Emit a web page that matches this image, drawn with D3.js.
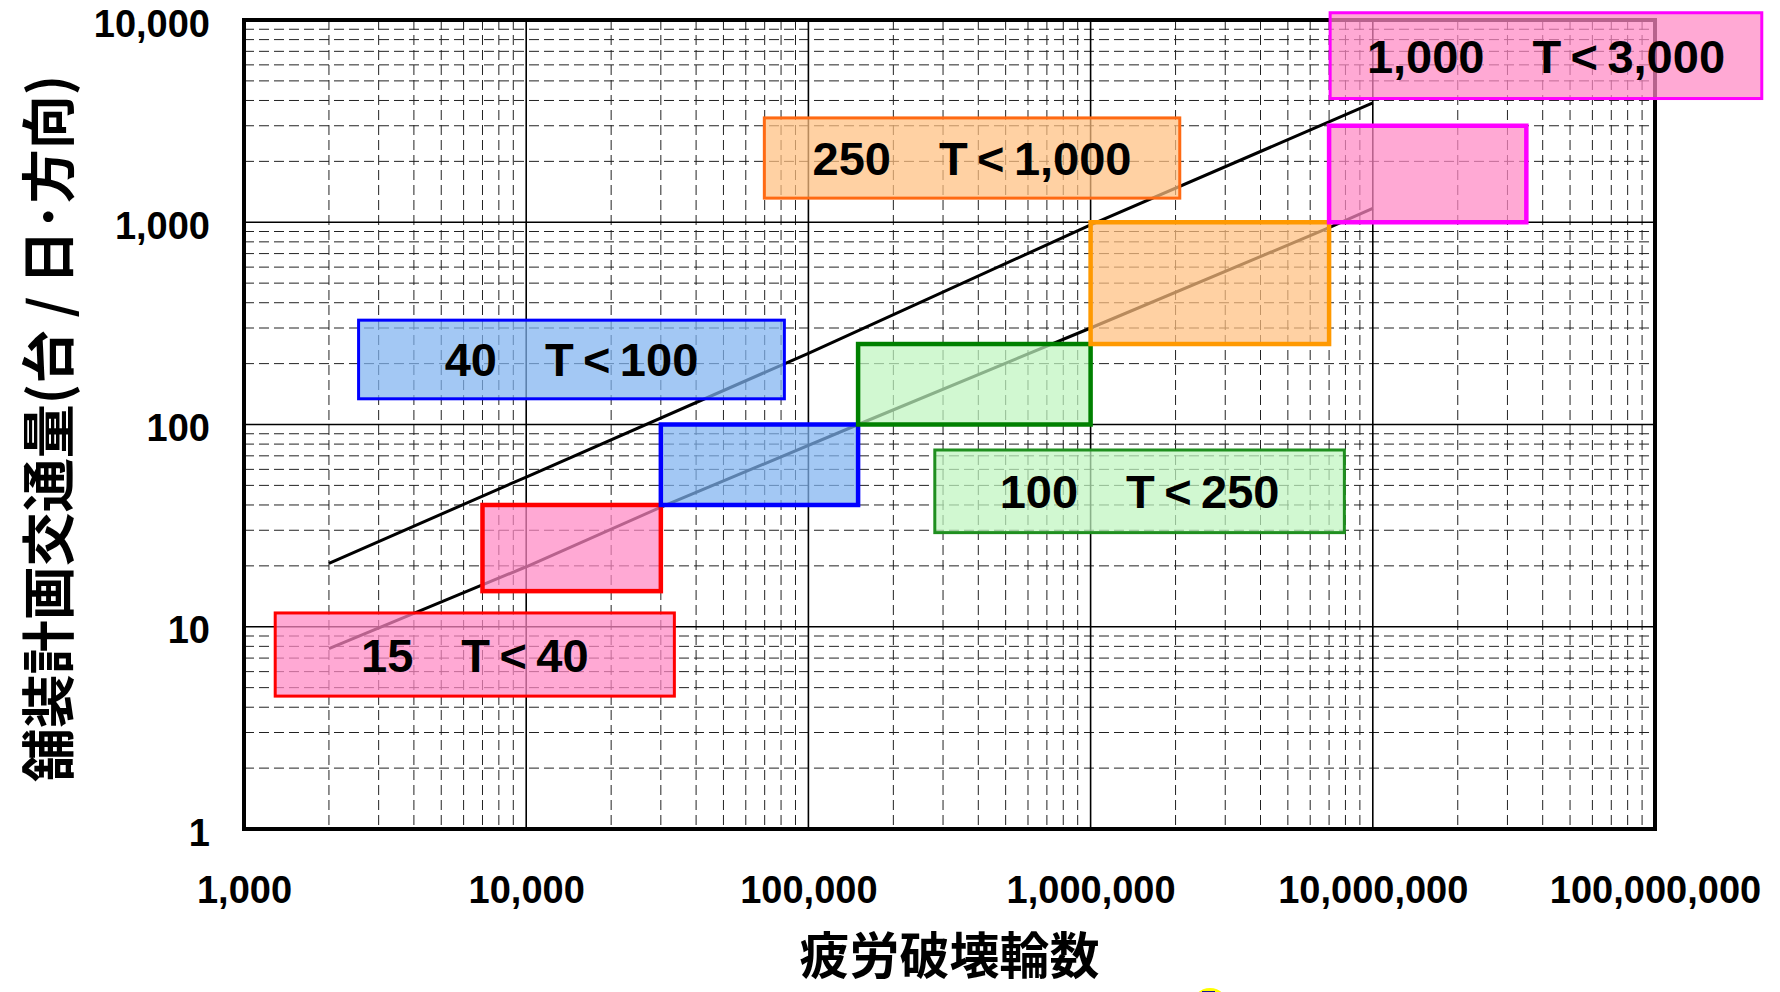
<!DOCTYPE html>
<html>
<head>
<meta charset="utf-8">
<script src="https://cdn.jsdelivr.net/npm/d3@7"></script>
<style>
  html, body { margin: 0; padding: 0; background: #fff; }
  svg { display: block; }
</style>
</head>
<body>
<svg id="chart" width="1780" height="992"></svg>
<script>
// Axis ticks
const xTickValues = [1e3, 1e4, 1e5, 1e6, 1e7, 1e8];
const yTickValues = [1, 10, 100, 1000, 10000];

// Traffic classes: design traffic T (vehicles/day/direction) and fatigue wheel-load range N
const classLower = [15, 40, 100, 250, 1000];
const classUpper = [40, 100, 250, 1000, 3000];
const wheelLow   = [7000, 30000, 150000, 1000000, 7000000];
const wheelHigh  = [30000, 150000, 1000000, 7000000, 35000000];

// Boundary curves (N, T)
const upperCurveN = [2000, 10000, 100000, 1000000, 10000000];
const upperCurveT = [20.6, 55, 225, 970, 3890];
const lowerCurveN = [2000, 10000, 30000, 150000, 1000000, 7000000, 10000000];
const lowerCurveT = [7.8, 19.8, 39, 100, 300, 940, 1170];

// Callout box extents in data units (N from/to, T top/bottom)
const calloutN0 = [1290, 2547, 280500, 69800, 7060000];
const calloutN1 = [33500, 82200, 7930000, 2070000, 239000000];
const calloutT0 = [11.7, 328, 74.8, 3280, 10860];
const calloutT1 = [4.54, 134, 29.2, 1316, 4090];

// Styling per class
const boxStroke   = ["#ff0000", "#0000ff", "#008000", "#ff9900", "#ff00ff"];
const labelStroke = ["#ff0000", "#0000ff", "#1f8f1f", "#ff6a13", "#ff00ff"];
const boxFill     = ["#ff88c4", "#80b3f0", "#bff5bf", "#ffbf80", "#ff88c4"];

const svg = d3.select("#chart");
const plot = { left: 244, right: 1655, top: 20, bottom: 829 };

const x = d3.scaleLog().domain([1e3, 1e8]).range([plot.left, plot.right]);
const y = d3.scaleLog().domain([1, 1e4]).range([plot.bottom, plot.top]);
const fmt = d3.format(",");
const numFont = "'Liberation Sans', Arial, Helvetica, sans-serif";
const cjkFont = "'Noto Sans CJK JP', 'Noto Sans CJK SC', sans-serif";

// Minor grid (2..9 within each decade)
const minorX = [];
for (let d = 1e3; d < 1e8; d *= 10) for (let k = 2; k <= 9; k++) minorX.push(d * k);
const minorY = [];
for (let d = 1; d < 1e4; d *= 10) for (let k = 2; k <= 9; k++) minorY.push(d * k);

const grid = svg.append("g");
grid.selectAll("line.mx").data(minorX).join("line")
  .attr("x1", d => x(d)).attr("x2", d => x(d))
  .attr("y1", plot.top).attr("y2", plot.bottom)
  .attr("stroke", "#222").attr("stroke-width", 1).attr("stroke-dasharray", "10,5");
grid.selectAll("line.my").data(minorY).join("line")
  .attr("y1", d => y(d)).attr("y2", d => y(d))
  .attr("x1", plot.left).attr("x2", plot.right)
  .attr("stroke", "#222").attr("stroke-width", 1).attr("stroke-dasharray", "10,5");

// Major grid (decades)
grid.selectAll("line.Mx").data(xTickValues).join("line")
  .attr("x1", d => x(d)).attr("x2", d => x(d))
  .attr("y1", plot.top).attr("y2", plot.bottom)
  .attr("stroke", "#000").attr("stroke-width", 1.6);
grid.selectAll("line.My").data(yTickValues).join("line")
  .attr("y1", d => y(d)).attr("y2", d => y(d))
  .attr("x1", plot.left).attr("x2", plot.right)
  .attr("stroke", "#000").attr("stroke-width", 1.6);

// Plot frame
svg.append("rect")
  .attr("x", plot.left).attr("y", plot.top)
  .attr("width", plot.right - plot.left).attr("height", plot.bottom - plot.top)
  .attr("fill", "none").attr("stroke", "#000").attr("stroke-width", 4);

// Axis labels via d3 axes (tick lines hidden)
const xAxis = svg.append("g")
  .attr("transform", `translate(0,${plot.bottom})`)
  .call(d3.axisBottom(x).tickValues(xTickValues).tickFormat(fmt).tickSize(0).tickPadding(74));
xAxis.select(".domain").remove();
xAxis.selectAll("text")
  .attr("font-family", numFont).attr("font-weight", "bold").attr("font-size", 38)
  .attr("fill", "#000").attr("dy", 0);

const yAxis = svg.append("g")
  .attr("transform", `translate(${plot.left},0)`)
  .call(d3.axisLeft(y).tickValues(yTickValues).tickFormat(fmt).tickSize(0).tickPadding(34));
yAxis.select(".domain").remove();
yAxis.selectAll("text")
  .attr("font-family", numFont).attr("font-weight", "bold").attr("font-size", 38)
  .attr("fill", "#000").attr("dy", 16);

// Boundary curves
const line = d3.line().x(d => x(d[0])).y(d => y(d[1]));
svg.append("path")
  .datum(upperCurveN.map((n, i) => [n, upperCurveT[i]]))
  .attr("d", line).attr("fill", "none").attr("stroke", "#000").attr("stroke-width", 3);
svg.append("path")
  .datum(lowerCurveN.map((n, i) => [n, lowerCurveT[i]]))
  .attr("d", line).attr("fill", "none").attr("stroke", "#000").attr("stroke-width", 3);

// Class range boxes
const classes = classLower.map((lo, i) => ({
  lo, hi: classUpper[i], n0: wheelLow[i], n1: wheelHigh[i],
  cn0: calloutN0[i], cn1: calloutN1[i], ct0: calloutT0[i], ct1: calloutT1[i], i
}));

svg.append("g").selectAll("rect").data(classes).join("rect")
  .attr("x", d => x(d.n0)).attr("y", d => y(d.hi))
  .attr("width", d => x(d.n1) - x(d.n0)).attr("height", d => y(d.lo) - y(d.hi))
  .attr("fill", d => boxFill[d.i]).attr("fill-opacity", 0.72)
  .attr("stroke", d => boxStroke[d.i]).attr("stroke-width", 4.5);

// Callouts
const callouts = svg.append("g").selectAll("g").data(classes).join("g");
callouts.append("rect")
  .attr("x", d => x(d.cn0)).attr("y", d => y(d.ct0))
  .attr("width", d => x(d.cn1) - x(d.cn0)).attr("height", d => y(d.ct1) - y(d.ct0))
  .attr("fill", d => boxFill[d.i]).attr("fill-opacity", 0.72)
  .attr("stroke", d => labelStroke[d.i]).attr("stroke-width", 3);
const ct = callouts.append("text")
  .attr("x", d => (x(d.cn0) + x(d.cn1)) / 2)
  .attr("y", d => (y(d.ct0) + y(d.ct1)) / 2 + 17)
  .attr("text-anchor", "middle")
  .attr("font-family", numFont).attr("font-weight", "bold").attr("font-size", 47)
  .attr("fill", "#000");
ct.append("tspan").text(d => fmt(d.lo));
ct.append("tspan").attr("dx", "1.02em").text(d => "T\u2009<\u2009" + fmt(d.hi));

// Axis titles
svg.append("text")
  .attr("x", (plot.left + plot.right) / 2).attr("y", 974)
  .attr("text-anchor", "middle")
  .attr("font-family", cjkFont).attr("font-weight", "bold").attr("font-size", 50)
  .attr("fill", "#000")
  .text("疲労破壊輪数");

svg.append("text")
  .attr("transform", `translate(45,${(plot.top + plot.bottom) / 2 + 4}) rotate(-90)`)
  .attr("text-anchor", "middle").attr("dominant-baseline", "central")
  .attr("font-family", cjkFont).attr("font-weight", "bold").attr("font-size", 54)
  .attr("fill", "#000")
  .attr("xml:space", "preserve")
  .text("舗装計画交通量(台 / 日\uFF65方向)");

// Marker peeking in at the bottom edge
svg.append("ellipse").attr("cx", 1210).attr("cy", 1006).attr("rx", 18).attr("ry", 18).attr("fill", "#ffff00");
svg.append("rect").attr("x", 1202).attr("y", 991).attr("width", 13).attr("height", 4).attr("fill", "#1a1a8c");
</script>
</body>
</html>
